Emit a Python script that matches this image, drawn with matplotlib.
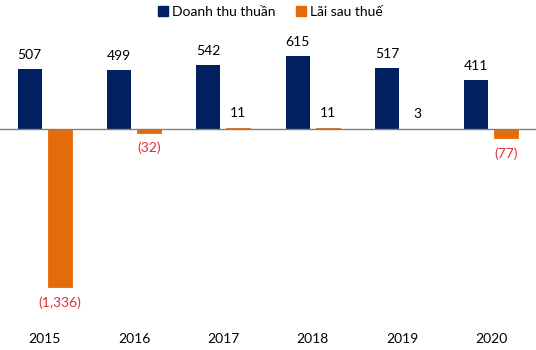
import matplotlib
matplotlib.use("Agg")
import matplotlib.pyplot as plt
import numpy as np
from matplotlib.patches import Patch

years = ["2015", "2016", "2017", "2018", "2019", "2020"]
revenue = [507, 499, 542, 615, 517, 411]
profit = [-1336, -32, 11, 11, 3, -77]

blue = "#002060"
orange = "#E36C09"
red = "#E0303A"

plt.rcParams['font.family'] = ['Lato', 'DejaVu Sans']

fig = plt.figure(figsize=(5.36, 3.5), dpi=100)
ax = fig.add_axes([0, 40/350, 1, 280/350])
x = np.arange(len(years))
w = 0.27
off = 0.168
ax.bar(x - off, revenue, w, color=blue, label="Doanh thu thuần")
ax.bar(x + off, profit, w, color=orange, edgecolor=orange, lw=0.6, label="Lãi sau thuế")
ax.set_xlim(-0.5, len(years) - 0.5)
ax.set_ylim(-1530, 837)
ax.axhline(0, color="#808080", lw=1)

fs = 10
for xi, v in zip(x, revenue):
    ax.annotate(f"{v:,}", (xi - off, v), xytext=(0, 6), textcoords="offset points",
                ha="center", va="bottom", fontsize=fs, color="black")
for xi, v in zip(x, profit):
    if v >= 0:
        ax.annotate(f"{v:,}", (xi + off, v), xytext=(0, 6), textcoords="offset points",
                    ha="center", va="bottom", fontsize=fs, color="black")
    else:
        ax.annotate(f"({abs(v):,})", (xi + off, v), xytext=(0, -6.5), textcoords="offset points",
                    ha="center", va="top", fontsize=fs, color=red)

for s in ax.spines.values():
    s.set_visible(False)
ax.set_yticks([])
ax.set_xticks([])
for xi, y in zip(x, years):
    fig.text((xi + 0.5) / len(years), 1 - 339/350, y, ha="center", va="center", fontsize=fs)

handles = [Patch(color=blue), Patch(color=orange)]
fig.legend(handles, ["Doanh thu thuần", "Lãi sau thuế"], loc="center",
           bbox_to_anchor=(0.505, 1 - 12/350), ncol=2, frameon=False, fontsize=fs,
           handlelength=0.7, handleheight=0.7, handletextpad=0.3, columnspacing=1.5)

fig.savefig("out.png", dpi=100)
